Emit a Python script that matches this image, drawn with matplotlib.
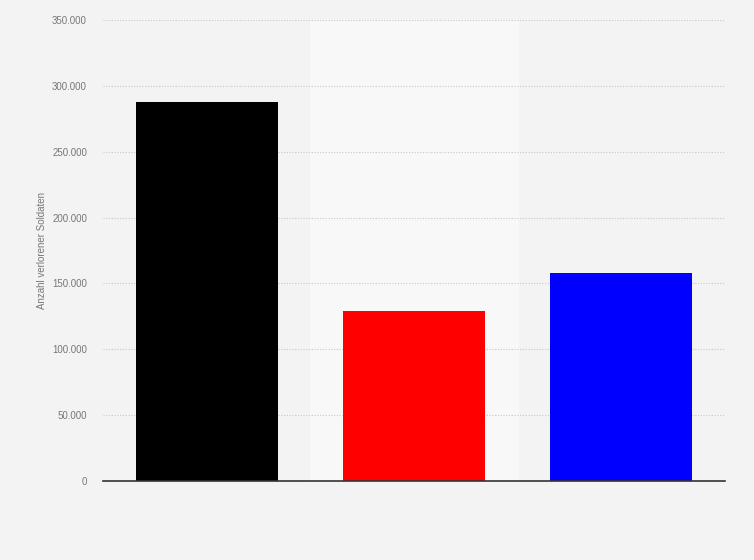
import matplotlib
matplotlib.use("Agg")
import matplotlib.pyplot as plt

plt.rcParams["font.family"] = ["Liberation Sans", "DejaVu Sans"]

# Data
categories = ["A", "B", "C"]
soldiers_lost = [288000, 129000, 158000]
bar_colors = ["#000000", "#ff0000", "#0000ff"]
y_ticks = [0, 50000, 100000, 150000, 200000, 250000, 300000, 350000]
y_tick_labels = ["0", "50.000", "100.000", "150.000", "200.000", "250.000", "300.000", "350.000"]

fig = plt.figure(figsize=(7.54, 5.6), dpi=100)
fig.patch.set_facecolor("#f3f3f3")
ax = fig.add_axes([103 / 754, 79 / 560, 622 / 754, 461 / 560])
ax.set_facecolor("#f3f3f3")

x = list(range(len(categories)))
# lighter band behind the middle column
ax.axvspan(0.5, 1.5, color="#f8f8f8", zorder=0)

ax.bar(x, soldiers_lost, width=0.685, color=bar_colors, zorder=3)

ax.set_xlim(-0.5, 2.5)
ax.set_ylim(0, 350000)
ax.set_yticks(y_ticks)
ax.set_yticklabels(y_tick_labels, fontsize=7, color="#777777")
ax.set_xticks([])
ax.tick_params(axis="y", length=0, pad=11.5)
ax.grid(axis="y", linestyle=(0, (1, 1.5)), color="#c8c8c8", linewidth=0.8, zorder=1)

for side in ["top", "right", "left"]:
    ax.spines[side].set_visible(False)
ax.spines["bottom"].set_color("#333333")
ax.spines["bottom"].set_linewidth(1.2)
ax.spines["bottom"].set_zorder(4)

ax.set_ylabel("Anzahl verlorener Soldaten", fontsize=7, color="#777777", labelpad=4)

fig.savefig("out.png", dpi=100, facecolor=fig.get_facecolor())
